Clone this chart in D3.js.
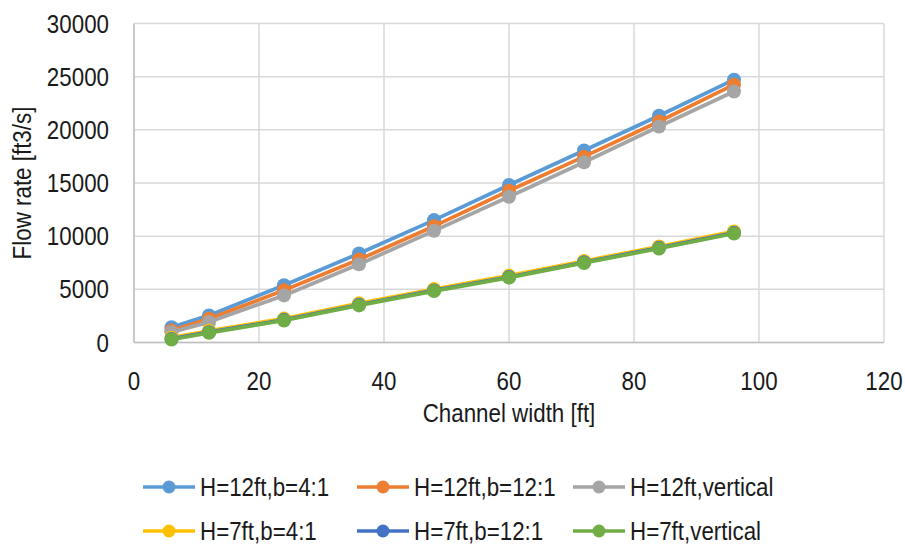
<!DOCTYPE html>
<html>
<head>
<meta charset="utf-8">
<script src="https://cdn.jsdelivr.net/npm/d3@7/dist/d3.min.js"></script>
<style>
  html, body { margin: 0; padding: 0; background: #fff; }
  svg { display: block; }
  text { font-family: "Liberation Sans", Arial, sans-serif; fill: #1a1a1a; }
</style>
</head>
<body>
<svg id="chart" width="905" height="548"></svg>
<script>
// Channel widths [ft]
const widths = [6, 12, 24, 36, 48, 60, 72, 84, 96];

// Flow rate [ft3/s] per configuration
const h12Slope4 = [1440, 2550, 5380, 8370, 11510, 14810, 18050, 21320, 24720];
const h12Slope12 = [1130, 2230, 4910, 7800, 10940, 14270, 17480, 20780, 24250];
const h12Vertical = [975, 1920, 4430, 7360, 10500, 13710, 16950, 20310, 23610];
const h7Slope4 = [450, 1100, 2250, 3680, 5020, 6290, 7660, 9030, 10450];
const h7Slope12 = [340, 970, 2130, 3550, 4900, 6160, 7540, 8900, 10310];
const h7Vertical = [280, 910, 2070, 3490, 4840, 6100, 7480, 8840, 10250];

const seriesNames = ["H=12ft,b=4:1", "H=12ft,b=12:1", "H=12ft,vertical",
                     "H=7ft,b=4:1", "H=7ft,b=12:1", "H=7ft,vertical"];
const seriesValues = [h12Slope4, h12Slope12, h12Vertical, h7Slope4, h7Slope12, h7Vertical];
const seriesColors = ["#5B9BD5", "#ED7D31", "#A5A5A5", "#FFC000", "#4472C4", "#70AD47"];

const xTicks = [0, 20, 40, 60, 80, 100, 120];
const yTicks = [0, 5000, 10000, 15000, 20000, 25000, 30000];

const svg = d3.select("#chart");
const plot = { left: 134, right: 884, top: 23.5, bottom: 342.5 };
const FONT = 26, NARROW = 0.86;

const x = d3.scaleLinear().domain([0, 120]).range([plot.left, plot.right]);
const y = d3.scaleLinear().domain([0, 30000]).range([plot.bottom, plot.top]);

// Condensed label: horizontally squeezed text anchored at (px, py)
function label(parent, px, py, str, anchor, rotate) {
  const g = parent.append("g")
    .attr("transform", `translate(${px},${py})${rotate ? ` rotate(${rotate})` : ""} scale(${NARROW},1)`);
  g.append("text").attr("text-anchor", anchor).attr("dy", "0.35em")
    .attr("font-size", FONT).text(str);
  return g;
}

// Gridlines
const grid = svg.append("g");
grid.selectAll("line.h").data(yTicks).join("line")
  .attr("x1", plot.left).attr("x2", plot.right)
  .attr("y1", d => y(d)).attr("y2", d => y(d))
  .attr("stroke", "#D9D9D9").attr("stroke-width", 1.5);
grid.selectAll("line.v").data(xTicks).join("line")
  .attr("y1", plot.top).attr("y2", plot.bottom)
  .attr("x1", d => x(d)).attr("x2", d => x(d))
  .attr("stroke", "#D9D9D9").attr("stroke-width", 1.5);

// Axis lines
svg.append("line").attr("x1", plot.left).attr("x2", plot.right)
  .attr("y1", plot.bottom).attr("y2", plot.bottom)
  .attr("stroke", "#BFBFBF").attr("stroke-width", 1.5);
svg.append("line").attr("x1", plot.left).attr("x2", plot.left)
  .attr("y1", plot.top).attr("y2", plot.bottom)
  .attr("stroke", "#BFBFBF").attr("stroke-width", 1.5);

// Tick labels
const fmt = d3.format("d");
const yLabels = svg.append("g");
yTicks.forEach(t => label(yLabels, plot.left - 25, y(t), fmt(t), "end"));
const xLabels = svg.append("g");
xTicks.forEach(t => label(xLabels, x(t), plot.bottom + 38, fmt(t), "middle"));

// Axis titles
label(svg, (plot.left + plot.right) / 2, 413, "Channel width [ft]", "middle");
label(svg, 22, (plot.top + plot.bottom) / 2, "Flow rate [ft3/s]", "middle", -90);

// Series lines and markers
const line = d3.line().x((d, i) => x(widths[i])).y(d => y(d));
seriesValues.forEach((vals, s) => {
  const g = svg.append("g");
  g.append("path").datum(vals).attr("d", line)
    .attr("fill", "none").attr("stroke", seriesColors[s])
    .attr("stroke-width", 3.75).attr("stroke-linejoin", "round");
  g.selectAll("circle").data(vals).join("circle")
    .attr("cx", (d, i) => x(widths[i])).attr("cy", d => y(d))
    .attr("r", 7).attr("fill", seriesColors[s]);
});

// Legend
const legendCols = [143, 357, 573];
const legendRows = [487, 531];
seriesNames.forEach((name, s) => {
  const lx = legendCols[s % 3], ly = legendRows[Math.floor(s / 3)];
  const g = svg.append("g").attr("transform", `translate(${lx},${ly})`);
  g.append("line").attr("x1", 0).attr("x2", 52).attr("y1", 0).attr("y2", 0)
    .attr("stroke", seriesColors[s]).attr("stroke-width", 3.5);
  g.append("circle").attr("cx", 26).attr("cy", 0).attr("r", 6.5).attr("fill", seriesColors[s]);
  label(g, 57, 0, name, "start");
});
</script>
</body>
</html>
